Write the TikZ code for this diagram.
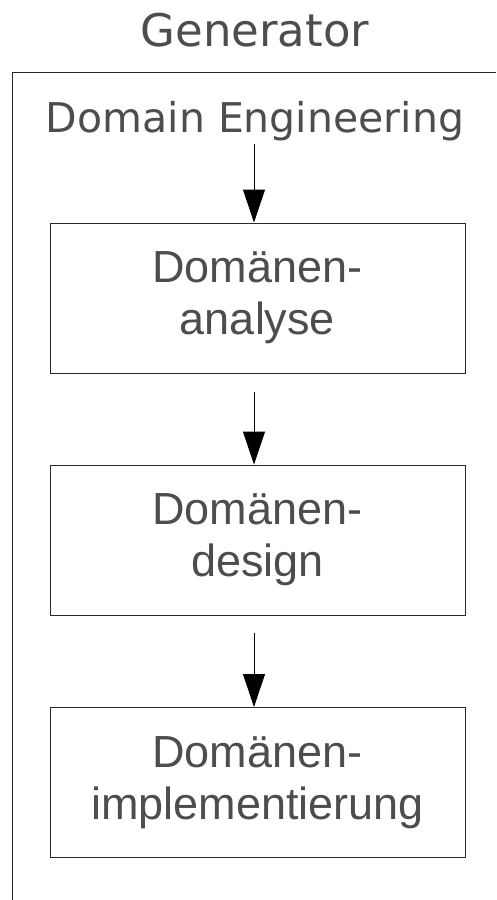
\documentclass[tikz,border=0pt]{standalone}
\usepackage{fontspec}
\setmainfont{Liberation Sans}
\newfontfamily\dejavu{DejaVu Sans}
\usetikzlibrary{arrows.meta, positioning}
\definecolor{txtgray}{RGB}{77, 77, 77}
\definecolor{linegray}{RGB}{40, 40, 40}

\begin{document}
\begin{tikzpicture}[x=1pt, y=-1pt,
  phase/.style={draw=linegray, line width=1pt, minimum width=415pt, minimum height=150pt, align=center, text=txtgray, font=\fontsize{45}{52}\selectfont, inner sep=0pt},
  label/.style={text=txtgray, inner sep=3pt},
  arr/.style={-{Triangle[length=33pt, width=22pt]}, line width=1pt}
]
  \useasboundingbox (0,0) rectangle (496,900);
  % frame
  \draw[linegray, line width=1pt] (12,900) -- (12,72) -- (496,72);
  \node[label, anchor=base, font=\dejavu\fontsize{45}{50}\selectfont] (gen) at (255,46) {Generator};
  \node[label, anchor=base, font=\dejavu\fontsize{41}{46}\selectfont] (eng) at (255,132) {Domain Engineering};
  \node[phase] (ana) at (257.5,298) {Domänen-\\analyse};
  \node[phase] (des) at (257.5,540) {Domänen-\\design};
  \node[phase] (imp) at (257.5,782.5) {Domänen-\\implementierung};
  \draw[arr] ([xshift=-3.5pt]eng.south -| ana.north) -- ([xshift=-3.5pt]ana.north);
  \draw[arr] ([xshift=-3.5pt, yshift=-18pt]ana.south) -- ([xshift=-3.5pt]des.north);
  \draw[arr] ([xshift=-3.5pt, yshift=-17pt]des.south) -- ([xshift=-3.5pt]imp.north);
\end{tikzpicture}
\end{document}
